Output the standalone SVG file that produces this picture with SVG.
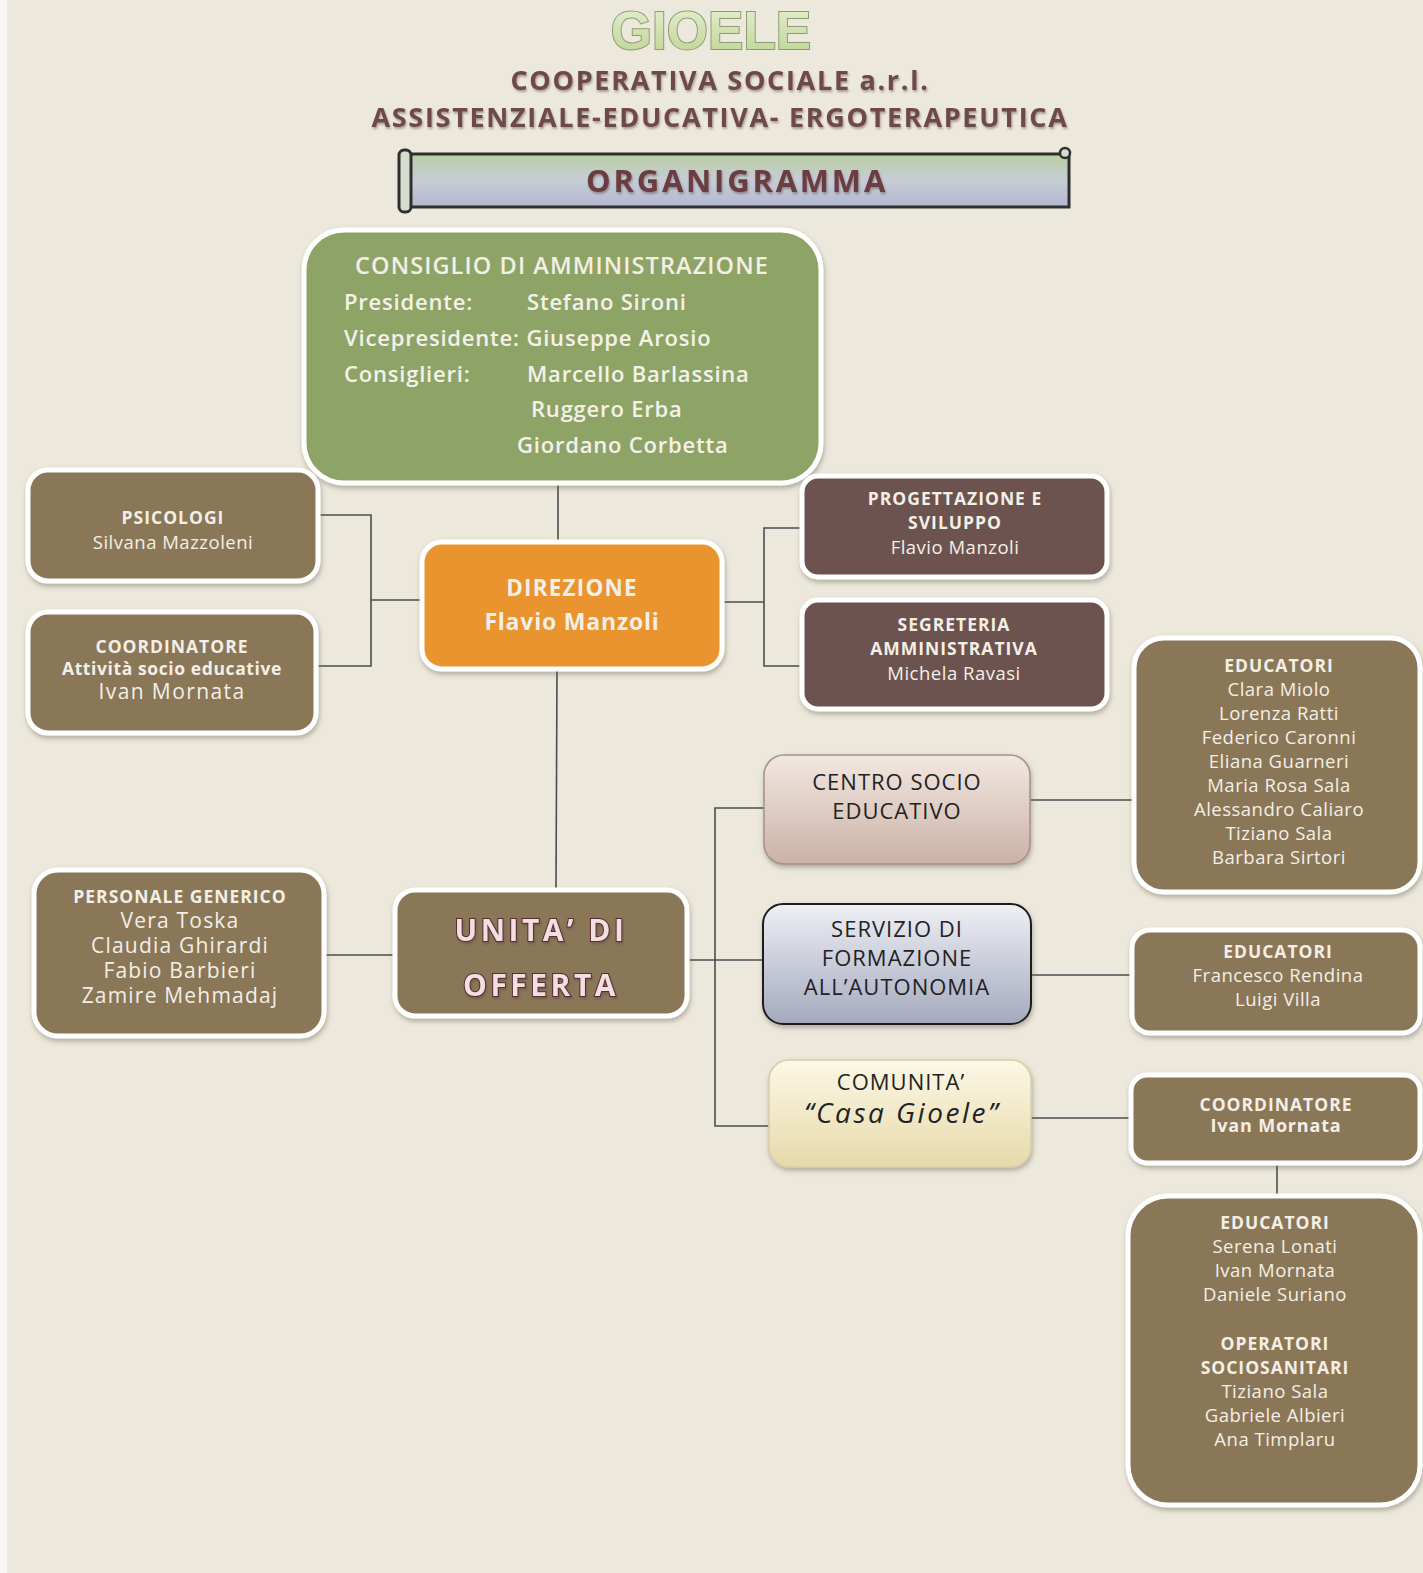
<svg xmlns="http://www.w3.org/2000/svg" width="1423" height="1573" viewBox="0 0 1423 1573">
<defs>
<linearGradient id="gScroll" x1="0" y1="0" x2="0" y2="1"><stop offset="0" stop-color="#b9cfa3"/><stop offset="0.5" stop-color="#c6ccd6"/><stop offset="1" stop-color="#b4b8d2"/></linearGradient>
<linearGradient id="gGioele" x1="0" y1="0" x2="0" y2="1"><stop offset="0" stop-color="#e6f0d2"/><stop offset="1" stop-color="#bcd393"/></linearGradient>
<linearGradient id="gCse" x1="0" y1="0" x2="0" y2="1"><stop offset="0" stop-color="#f2e8e1"/><stop offset="1" stop-color="#cbb1a6"/></linearGradient>
<linearGradient id="gSfa" x1="0" y1="0" x2="0" y2="1"><stop offset="0" stop-color="#eef0f5"/><stop offset="1" stop-color="#a4a9bd"/></linearGradient>
<linearGradient id="gCom" x1="0" y1="0" x2="0" y2="1"><stop offset="0" stop-color="#fcf8e6"/><stop offset="1" stop-color="#e6d9aa"/></linearGradient>
<filter id="sh" x="-10%" y="-10%" width="120%" height="125%"><feDropShadow dx="1" dy="3" stdDeviation="2.5" flood-color="#6b6555" flood-opacity="0.45"/></filter>
<filter id="tsh" x="-5%" y="-20%" width="110%" height="150%"><feDropShadow dx="1" dy="2" stdDeviation="1" flood-color="#5a4040" flood-opacity="0.45"/></filter>
</defs>
<style>
.bg{fill:#ece8dc}
.wb{stroke:#ffffff;stroke-width:5}
.brown{fill:#8a7758}
.dark{fill:#6c5350}
.t{font-family:"Open Sans","Noto Sans","Liberation Sans",sans-serif;text-anchor:middle}
.w{fill:#f4efe6}
.h{font-weight:bold;font-size:17.5px;letter-spacing:1px}
.n{font-size:18.5px;letter-spacing:0.5px}
.p{font-size:21px;letter-spacing:1.2px}
.c{font-size:22px;letter-spacing:1px;fill:#222222}
.conn line,.conn polyline{stroke:#4a4e4e;stroke-width:1.6;fill:none}
</style>
<rect class="bg" x="0" y="0" width="1423" height="1573"/>
<rect x="0" y="0" width="7" height="1573" fill="#f7f6f2"/>

<g id="header">
<text x="711" y="49" text-anchor="middle" font-family="'Liberation Sans',Arial,sans-serif" font-size="53" font-weight="bold" fill="url(#gGioele)" stroke="#8e9c72" stroke-width="2" paint-order="stroke">GIOELE</text>
<text class="t" x="720" y="90" font-size="27" font-weight="bold" letter-spacing="1.7" fill="#6e4a4b" filter="url(#tsh)">COOPERATIVA SOCIALE a.r.l.</text>
<text class="t" x="720" y="127" font-size="27" font-weight="bold" letter-spacing="1.7" fill="#6e4a4b" filter="url(#tsh)">ASSISTENZIALE-EDUCATIVA- ERGOTERAPEUTICA</text>
</g>

<g id="banner">
<rect x="405" y="154" width="664" height="53" fill="url(#gScroll)" stroke="#2f2f2f" stroke-width="3"/>
<rect x="399" y="150" width="12" height="62" rx="5" fill="#d8dcd0" stroke="#2f2f2f" stroke-width="3"/>
<circle cx="1065" cy="153" r="5" fill="#d8dcd0" stroke="#2f2f2f" stroke-width="2.5"/>
<text class="t" x="737" y="192" font-size="31" font-weight="bold" letter-spacing="2.8" fill="#6b3d3f" filter="url(#tsh)">ORGANIGRAMMA</text>
</g>

<g class="conn" id="connectors">
<line x1="558" y1="484" x2="558" y2="542"/>
<line x1="371" y1="600" x2="422" y2="600"/>
<polyline points="318,515 371,515 371,666 317,666"/>
<line x1="722" y1="602" x2="764" y2="602"/>
<polyline points="802,528 764,528 764,666 802,666"/>
<line x1="557" y1="670" x2="556" y2="890"/>
<line x1="324" y1="955" x2="395" y2="955"/>
<line x1="687" y1="960" x2="763" y2="960"/>
<polyline points="764,808 715,808 715,1126 769,1126"/>
<line x1="1030" y1="800" x2="1134" y2="800"/>
<line x1="1031" y1="975" x2="1132" y2="975"/>
<line x1="1031" y1="1118" x2="1131" y2="1118"/>
<line x1="1277" y1="1163" x2="1277" y2="1196"/>
</g>

<g id="cda">
<rect x="304" y="230" width="517" height="253" rx="40" fill="#8ea466" class="wb" filter="url(#sh)"/>
<text class="t w" x="562" y="274" font-size="23.5" font-weight="600" letter-spacing="1.1">CONSIGLIO DI AMMINISTRAZIONE</text>
<g font-family="'Open Sans','Noto Sans','Liberation Sans',sans-serif" font-size="22" font-weight="600" letter-spacing="0.8" fill="#f4f1ea">
<text x="344" y="310">Presidente:</text><text x="527" y="310">Stefano Sironi</text>
<text x="344" y="346">Vicepresidente: Giuseppe Arosio</text>
<text x="344" y="382">Consiglieri:</text><text x="527" y="382">Marcello Barlassina</text>
<text x="531" y="417">Ruggero Erba</text>
<text x="517" y="453">Giordano Corbetta</text>
</g>
</g>

<g id="psicologi">
<rect x="28" y="470" width="290" height="111" rx="20" class="brown wb" filter="url(#sh)"/>
<text class="t w h" x="173" y="524">PSICOLOGI</text>
<text class="t w n" x="173" y="549">Silvana Mazzoleni</text>
</g>

<g id="coordinatore-ase">
<rect x="28" y="612" width="288" height="121" rx="20" class="brown wb" filter="url(#sh)"/>
<text class="t w h" x="172" y="653">COORDINATORE</text>
<text class="t w" x="172" y="675" font-size="17.5" font-weight="bold" letter-spacing="0.6">Attività socio educative</text>
<text class="t w" x="172" y="699" font-size="21" letter-spacing="1.4">Ivan Mornata</text>
</g>

<g id="direzione">
<rect x="422" y="542" width="300" height="127" rx="20" fill="#e9942f" class="wb" filter="url(#sh)"/>
<text class="t w" x="572" y="596" font-size="22.5" font-weight="bold" letter-spacing="1.2">DIREZIONE</text>
<text class="t w" x="572" y="630" font-size="23" font-weight="bold" letter-spacing="0.8">Flavio Manzoli</text>
</g>

<g id="progettazione">
<rect x="802" y="476" width="305" height="101" rx="16" class="dark wb" filter="url(#sh)"/>
<text class="t w h" x="955" y="505">PROGETTAZIONE E</text>
<text class="t w h" x="955" y="529">SVILUPPO</text>
<text class="t w n" x="955" y="554">Flavio Manzoli</text>
</g>

<g id="segreteria">
<rect x="802" y="600" width="305" height="109" rx="16" class="dark wb" filter="url(#sh)"/>
<text class="t w h" x="954" y="631">SEGRETERIA</text>
<text class="t w h" x="954" y="655">AMMINISTRATIVA</text>
<text class="t w n" x="954" y="680">Michela Ravasi</text>
</g>

<g id="personale">
<rect x="34" y="870" width="290" height="166" rx="24" class="brown wb" filter="url(#sh)"/>
<text class="t w h" x="180" y="903">PERSONALE GENERICO</text>
<text class="t w p" x="180" y="928">Vera Toska</text>
<text class="t w p" x="180" y="953">Claudia Ghirardi</text>
<text class="t w p" x="180" y="978">Fabio Barbieri</text>
<text class="t w p" x="180" y="1003">Zamire Mehmadaj</text>
</g>

<g id="unita">
<rect x="395" y="890" width="292" height="126" rx="20" class="brown wb" filter="url(#sh)"/>
<g class="t" font-size="30" font-weight="bold" letter-spacing="3.5" fill="#f2dfe2" stroke="#5b2a32" stroke-width="2" paint-order="stroke" filter="url(#tsh)">
<text x="541" y="941">UNITA’ DI</text>
<text x="541" y="996">OFFERTA</text>
</g>
</g>

<g id="cse">
<rect x="764" y="755" width="266" height="109" rx="20" fill="url(#gCse)" stroke="#a99088" stroke-width="1.5" filter="url(#sh)"/>
<text class="t c" x="897" y="790">CENTRO SOCIO</text>
<text class="t c" x="897" y="819">EDUCATIVO</text>
</g>

<g id="sfa">
<rect x="763" y="904" width="268" height="120" rx="20" fill="url(#gSfa)" stroke="#1e1e1e" stroke-width="2" filter="url(#sh)"/>
<text class="t c" x="897" y="937">SERVIZIO DI</text>
<text class="t c" x="897" y="966">FORMAZIONE</text>
<text class="t c" x="897" y="995" letter-spacing="2.2">ALL’AUTONOMIA</text>
</g>

<g id="comunita">
<rect x="769" y="1060" width="262" height="107" rx="20" fill="url(#gCom)" stroke="#d8cfa8" stroke-width="1.5" filter="url(#sh)"/>
<text class="t c" x="901" y="1090" letter-spacing="1.4">COMUNITA’</text>
<text class="t" x="902" y="1123" fill="#222222" font-family="'Liberation Serif',serif" font-style="italic" font-size="28" letter-spacing="2.5">“Casa Gioele”</text>
</g>

<g id="educatori-cse">
<rect x="1134" y="638" width="286" height="254" rx="30" class="brown wb" filter="url(#sh)"/>
<text class="t w h" x="1279" y="672">EDUCATORI</text>
<text class="t w n" x="1279" y="696">Clara Miolo</text>
<text class="t w n" x="1279" y="720">Lorenza Ratti</text>
<text class="t w n" x="1279" y="744">Federico Caronni</text>
<text class="t w n" x="1279" y="768">Eliana Guarneri</text>
<text class="t w n" x="1279" y="792">Maria Rosa Sala</text>
<text class="t w n" x="1279" y="816">Alessandro Caliaro</text>
<text class="t w n" x="1279" y="840">Tiziano Sala</text>
<text class="t w n" x="1279" y="864">Barbara Sirtori</text>
</g>

<g id="educatori-sfa">
<rect x="1132" y="930" width="288" height="103" rx="18" class="brown wb" filter="url(#sh)"/>
<text class="t w h" x="1278" y="958">EDUCATORI</text>
<text class="t w n" x="1278" y="982">Francesco Rendina</text>
<text class="t w n" x="1278" y="1006">Luigi Villa</text>
</g>

<g id="coordinatore-com">
<rect x="1131" y="1075" width="289" height="88" rx="16" class="brown wb" filter="url(#sh)"/>
<text class="t w h" x="1276" y="1111">COORDINATORE</text>
<text class="t w" x="1276" y="1132" font-size="18" font-weight="bold" letter-spacing="0.8">Ivan Mornata</text>
</g>

<g id="educatori-com">
<rect x="1128" y="1196" width="292" height="309" rx="40" class="brown wb" filter="url(#sh)"/>
<text class="t w h" x="1275" y="1229">EDUCATORI</text>
<text class="t w n" x="1275" y="1253">Serena Lonati</text>
<text class="t w n" x="1275" y="1277">Ivan Mornata</text>
<text class="t w n" x="1275" y="1301">Daniele Suriano</text>
<text class="t w h" x="1275" y="1350">OPERATORI</text>
<text class="t w h" x="1275" y="1374">SOCIOSANITARI</text>
<text class="t w n" x="1275" y="1398">Tiziano Sala</text>
<text class="t w n" x="1275" y="1422">Gabriele Albieri</text>
<text class="t w n" x="1275" y="1446">Ana Timplaru</text>
</g>
</svg>
